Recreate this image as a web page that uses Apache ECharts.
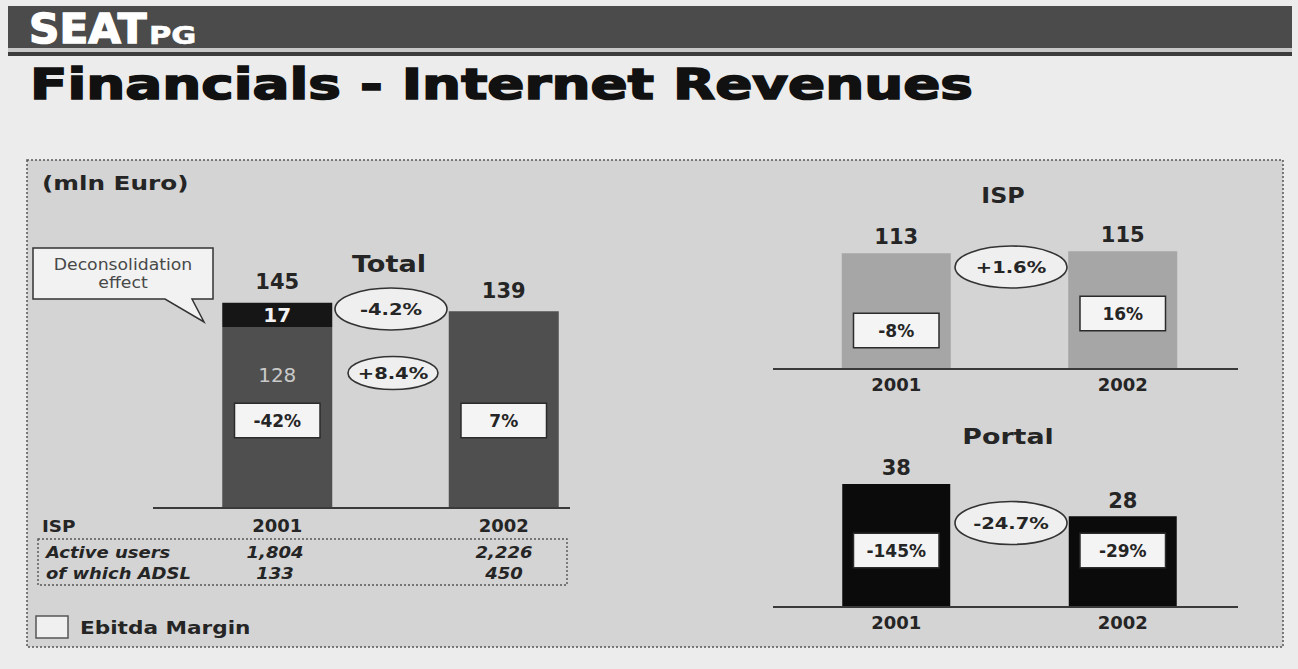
<!DOCTYPE html>
<html>
<head>
<meta charset="utf-8">
<title>Financials - Internet Revenues</title>
<script src="https://cdn.jsdelivr.net/npm/echarts@6/dist/echarts.min.js"></script>
<style>
  html, body { margin: 0; padding: 0; background: #ececec; }
  #chart { width: 1298px; height: 669px; }
</style>
</head>
<body>
<div id="chart"></div>
<script>
// ---- data (mln Euro) ----
const years = ['2001', '2002'];

const totalContinuing = [128, 139];
const totalDeconsolidated = [17, 0];
const totalMargin = ['-42%', '7%'];
const totalGrowth = '-4.2%';
const continuingGrowth = '+8.4%';

const ispRevenue = [113, 115];
const ispMargin = ['-8%', '16%'];
const ispGrowth = '+1.6%';

const portalRevenue = [38, 28];
const portalMargin = ['-145%', '-29%'];
const portalGrowth = '-24.7%';

const activeUsers = ['1,804', '2,226'];
const adslUsers = ['133', '450'];

// ---- styling helpers ----
const FONT = '"DejaVu Sans", "Liberation Sans", sans-serif';
const INK = '#252525';

const totals = totalContinuing.map((v, i) => v + totalDeconsolidated[i]);

function marginLabel(text, lift) {
  return {
    show: true, position: 'insideBottom', distance: lift,
    formatter: text,
    fontFamily: FONT, fontSize: 17, fontWeight: 'bold', color: INK,
    backgroundColor: '#f4f4f4', borderColor: '#2b2b2b', borderWidth: 1.5,
    width: 84, height: 33, lineHeight: 33, align: 'center', padding: 0
  };
}
function topLabel(dist) {
  return {
    show: true, position: 'top', distance: dist,
    fontFamily: FONT, fontSize: 21, fontWeight: 'bold', color: INK
  };
}
function overlayBar(name, grid, values, width, labelFor) {
  return {
    name, type: 'bar', xAxisIndex: grid, yAxisIndex: grid,
    barWidth: width, barGap: '-100%', silent: true,
    itemStyle: { color: 'rgba(0,0,0,0)' },
    data: values.map((v, i) => ({ value: v, label: labelFor(i) })),
    z: 4
  };
}
function catAxis(grid, margin) {
  return {
    type: 'category', gridIndex: grid, data: years,
    axisLine: { show: false }, axisTick: { show: false },
    axisLabel: { margin, fontFamily: FONT, fontSize: 18, fontWeight: 'bold', color: INK }
  };
}
function valAxis(grid, max) {
  return { type: 'value', gridIndex: grid, min: 0, max, show: false, splitLine: { show: false } };
}
function txt(x, y, text, size, opts) {
  opts = opts || {};
  return {
    type: 'text', x, y, z: opts.z || 20, scaleX: opts.sx || 1,
    style: {
      text, x: 0, y: 0,
      fontFamily: FONT, fontSize: size,
      fontWeight: opts.weight || 'bold', fontStyle: opts.italic ? 'italic' : 'normal',
      fill: opts.fill || INK,
      stroke: opts.stroke || null, lineWidth: opts.lw || 0,
      textAlign: opts.align || 'left', textVerticalAlign: 'middle'
    }
  };
}
function bubble(cx, cy, rx, ry, text) {
  return [
    { type: 'ellipse', z: 15, shape: { cx, cy, rx, ry },
      style: { fill: '#efefef', stroke: '#333', lineWidth: 1.6 } },
    txt(cx, cy, text, 16, { align: 'center', sx: 1.22, z: 16 })
  ];
}
function rule(x1, x2, y) {
  return { type: 'line', z: 12, shape: { x1, y1: y, x2, y2: y },
    style: { stroke: '#3a3a3a', lineWidth: 2.2 } };
}

const chart = echarts.init(document.getElementById('chart'), null, { renderer: 'svg', width: 1298, height: 669 });

const graphics = [
  // header band
  { type: 'rect', z: 0, shape: { x: 8, y: 6, width: 1284, height: 42 }, style: { fill: '#4b4b4b' } },
  { type: 'rect', z: 0, shape: { x: 8, y: 48, width: 1284, height: 4 }, style: { fill: '#c8c8c8' } },
  { type: 'rect', z: 0, shape: { x: 8, y: 52, width: 1284, height: 4 }, style: { fill: '#3c3c3c' } },
  txt(29, 29, 'SEAT', 41, { fill: '#ffffff', sx: 1.03, stroke: '#ffffff', lw: 1.4 }),
  txt(149, 35, 'PG', 25, { fill: '#ffffff', sx: 1.22, stroke: '#ffffff', lw: 0.6 }),
  // slide title
  txt(30, 85, 'Financials - Internet Revenues', 42, { fill: '#111', sx: 1.305, stroke: '#111', lw: 1.6 }),
  // content panel
  { type: 'rect', z: 0, shape: { x: 27, y: 160, width: 1256, height: 487 },
    style: { fill: '#d4d4d4', stroke: '#555', lineWidth: 1.5, lineDash: [2, 2] } },
  txt(42, 184, '(mln Euro)', 19, { sx: 1.3 }),
  // callout
  { type: 'polygon', z: 14,
    shape: { points: [[33, 248], [213, 248], [213, 299], [192, 299], [204, 322], [165, 299], [33, 299]] },
    style: { fill: '#f2f2f2', stroke: '#333', lineWidth: 1.5 } },
  txt(123, 265, 'Deconsolidation', 15, { weight: 'normal', fill: '#484848', align: 'center', sx: 1.15, z: 16 }),
  txt(123, 283, 'effect', 15, { weight: 'normal', fill: '#484848', align: 'center', sx: 1.15, z: 16 }),
  // chart titles
  txt(389, 264, 'Total', 23, { align: 'center', sx: 1.18 }),
  txt(1003, 195, 'ISP', 22, { align: 'center', sx: 1.08 }),
  txt(1008, 436, 'Portal', 22, { align: 'center', sx: 1.22 }),
  // baselines
  rule(153, 570, 508),
  rule(773, 1238, 369),
  rule(773, 1238, 607),
  // growth rates
  ...bubble(391, 309, 56, 21, totalGrowth),
  ...bubble(393, 373, 45, 16.5, continuingGrowth),
  ...bubble(1011, 267, 56, 21, ispGrowth),
  ...bubble(1011, 523, 56, 21.5, portalGrowth),
  // ISP users table
  txt(42, 526, 'ISP', 16, { sx: 1.15 }),
  { type: 'rect', z: 1, shape: { x: 38, y: 539, width: 529, height: 46 },
    style: { fill: 'rgba(0,0,0,0)', stroke: '#555', lineWidth: 1.4, lineDash: [2, 2] } },
  txt(46, 553, 'Active users', 15, { italic: true, sx: 1.2 }),
  txt(46, 574, 'of which ADSL', 15, { italic: true, sx: 1.2 }),
  txt(275, 553, activeUsers[0], 15, { italic: true, align: 'center', sx: 1.2 }),
  txt(504, 553, activeUsers[1], 15, { italic: true, align: 'center', sx: 1.2 }),
  txt(275, 574, adslUsers[0], 15, { italic: true, align: 'center', sx: 1.2 }),
  txt(504, 574, adslUsers[1], 15, { italic: true, align: 'center', sx: 1.2 }),
  // legend
  { type: 'rect', z: 1, shape: { x: 36, y: 616, width: 32, height: 22 },
    style: { fill: '#f0f0f0', stroke: '#555', lineWidth: 1.5 } },
  txt(80, 628, 'Ebitda Margin', 18, { sx: 1.2 })
];

const option = {
  backgroundColor: '#ececec',
  animation: false,
  grid: [
    { left: 164, width: 453, top: 225, height: 283 },
    { left: 783, width: 453, top: 164, height: 205 },
    { left: 783, width: 453, top: 445, height: 162 }
  ],
  xAxis: [catAxis(0, 8), catAxis(1, 6), catAxis(2, 6)],
  yAxis: [valAxis(0, 200), valAxis(1, 200), valAxis(2, 50)],
  series: [
    // Total: continuing operations + deconsolidated part
    {
      name: 'Continuing', type: 'bar', stack: 'total', xAxisIndex: 0, yAxisIndex: 0,
      barWidth: 110, barGap: '-100%',
      itemStyle: { color: '#4f4f4f' },
      data: totalContinuing.map((v, i) => ({
        value: v,
        label: i === 0
          ? { show: true, position: 'insideTop', distance: 38, fontFamily: FONT, fontSize: 20, color: '#c9c9c9' }
          : { show: false }
      }))
    },
    {
      name: 'Deconsolidation effect', type: 'bar', stack: 'total', xAxisIndex: 0, yAxisIndex: 0,
      barWidth: 110, barGap: '-100%',
      itemStyle: { color: '#161616' },
      data: totalDeconsolidated.map(v => ({
        value: v,
        label: { show: v > 0, position: 'inside', fontFamily: FONT, fontSize: 20, fontWeight: 'bold', color: '#f2f2f2' }
      }))
    },
    overlayBar('Total', 0, totals, 110, () => topLabel(10)),
    overlayBar('Ebitda margin', 0, totals, 110, i => marginLabel(totalMargin[i], 71)),

    // ISP
    {
      name: 'ISP', type: 'bar', xAxisIndex: 1, yAxisIndex: 1,
      barWidth: 109, barGap: '-100%',
      itemStyle: { color: '#a6a6a6' },
      label: topLabel(6),
      data: ispRevenue
    },
    overlayBar('ISP Ebitda margin', 1, ispRevenue, 109, i => marginLabel(ispMargin[i], [22, 39][i])),

    // Portal
    {
      name: 'Portal', type: 'bar', xAxisIndex: 2, yAxisIndex: 2,
      barWidth: 108, barGap: '-100%',
      itemStyle: { color: '#0b0b0b' },
      label: topLabel(5),
      data: portalRevenue
    },
    overlayBar('Portal Ebitda margin', 2, portalRevenue, 108, i => marginLabel(portalMargin[i], 40))
  ],
  graphic: { elements: graphics }
};

chart.setOption(option);
</script>
</body>
</html>
